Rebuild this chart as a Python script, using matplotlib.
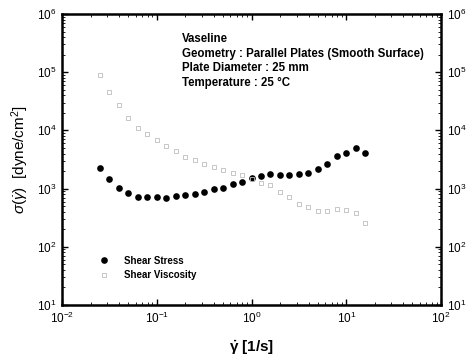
import matplotlib
matplotlib.use("Agg")
import matplotlib.pyplot as plt
import numpy as np

plt.rcParams['font.family'] = ['Liberation Sans', 'DejaVu Sans']
plt.rcParams['mathtext.fontset'] = 'custom'
plt.rcParams['mathtext.rm'] = 'Liberation Sans'
plt.rcParams['mathtext.it'] = 'Liberation Sans:italic'
plt.rcParams['mathtext.bf'] = 'Liberation Sans:bold'

log_shear_rate = [-1.6, -1.5, -1.4, -1.3, -1.2, -1.1, -1.0, -0.9, -0.8, -0.7,
                  -0.6, -0.5, -0.4, -0.3, -0.2, -0.1, 0.0, 0.1, 0.2, 0.3,
                  0.4, 0.5, 0.6, 0.7, 0.8, 0.9, 1.0, 1.1, 1.2]
shear_rate = [10 ** v for v in log_shear_rate]
shear_stress = [2230, 1460, 1040, 830, 726, 708, 708, 700, 746, 767,
                798, 875, 973, 1040, 1186, 1315, 1500, 1667, 1800, 1710,
                1710, 1760, 1880, 2140, 2630, 3630, 4040, 4990, 4040]
shear_viscosity = [89500, 45100, 27300, 16100, 11100, 8670, 6840, 5400, 4490, 3450,
                   3100, 2610, 2320, 2090, 1830, 1710, 1460, 1230, 1150, 885,
                   708, 543, 477, 417, 417, 440, 428, 385, 260]

info_lines = ["Vaseline",
              "Geometry : Parallel Plates (Smooth Surface)",
              "Plate Diameter : 25 mm",
              "Temperature : 25 \u00b0C"]

W, H = 468, 358
fig = plt.figure(figsize=(W / 100, H / 100), dpi=100)
ax = fig.add_axes([62 / W, 1 - 305 / H, (441 - 62) / W, (305 - 14) / H])

ax.plot(shear_rate, shear_stress, 'o', color='black', markersize=4.8,
        markeredgewidth=0, label='Shear Stress')
ax.plot(shear_rate, shear_viscosity, 's', markerfacecolor='none',
        markeredgecolor='#bdbdbd', markersize=3.0, markeredgewidth=0.6,
        label='Shear Viscosity')

ax.set_xscale('log')
ax.set_yscale('log')
ax.set_xlim(1e-2, 1e2)
ax.set_ylim(1e1, 1e6)

for s in ax.spines.values():
    s.set_linewidth(1.8)

ax.tick_params(which='both', direction='in', top=True, right=True,
               labelright=True, labelsize=8.5, pad=4)
ax.tick_params(which='major', length=4, width=1)
ax.tick_params(which='minor', length=2, width=0.6)

ax.set_xlabel(r'$\mathbf{\dot{\gamma}}$ [1/s]', fontsize=11, fontweight='bold', labelpad=9)
ax.set_ylabel(r'$\sigma(\dot{\gamma})$  [dyne/cm$^2$]', fontsize=11, labelpad=4)

for i, t in enumerate(info_lines):
    ax.text(182 / W, 1 - (39 + 14.5 * i) / H, t, transform=fig.transFigure,
            fontsize=8.3, fontweight='bold', va='center', ha='left')

leg = ax.legend(loc='lower left', bbox_to_anchor=((94 - 62) / (441 - 62), (305 - 280) / (305 - 14)),
                frameon=False, fontsize=7.0, handletextpad=1.1, labelspacing=0.45,
                borderaxespad=0, borderpad=0)
for t in leg.get_texts():
    t.set_fontweight('bold')

fig.savefig('out.png', dpi=100)
